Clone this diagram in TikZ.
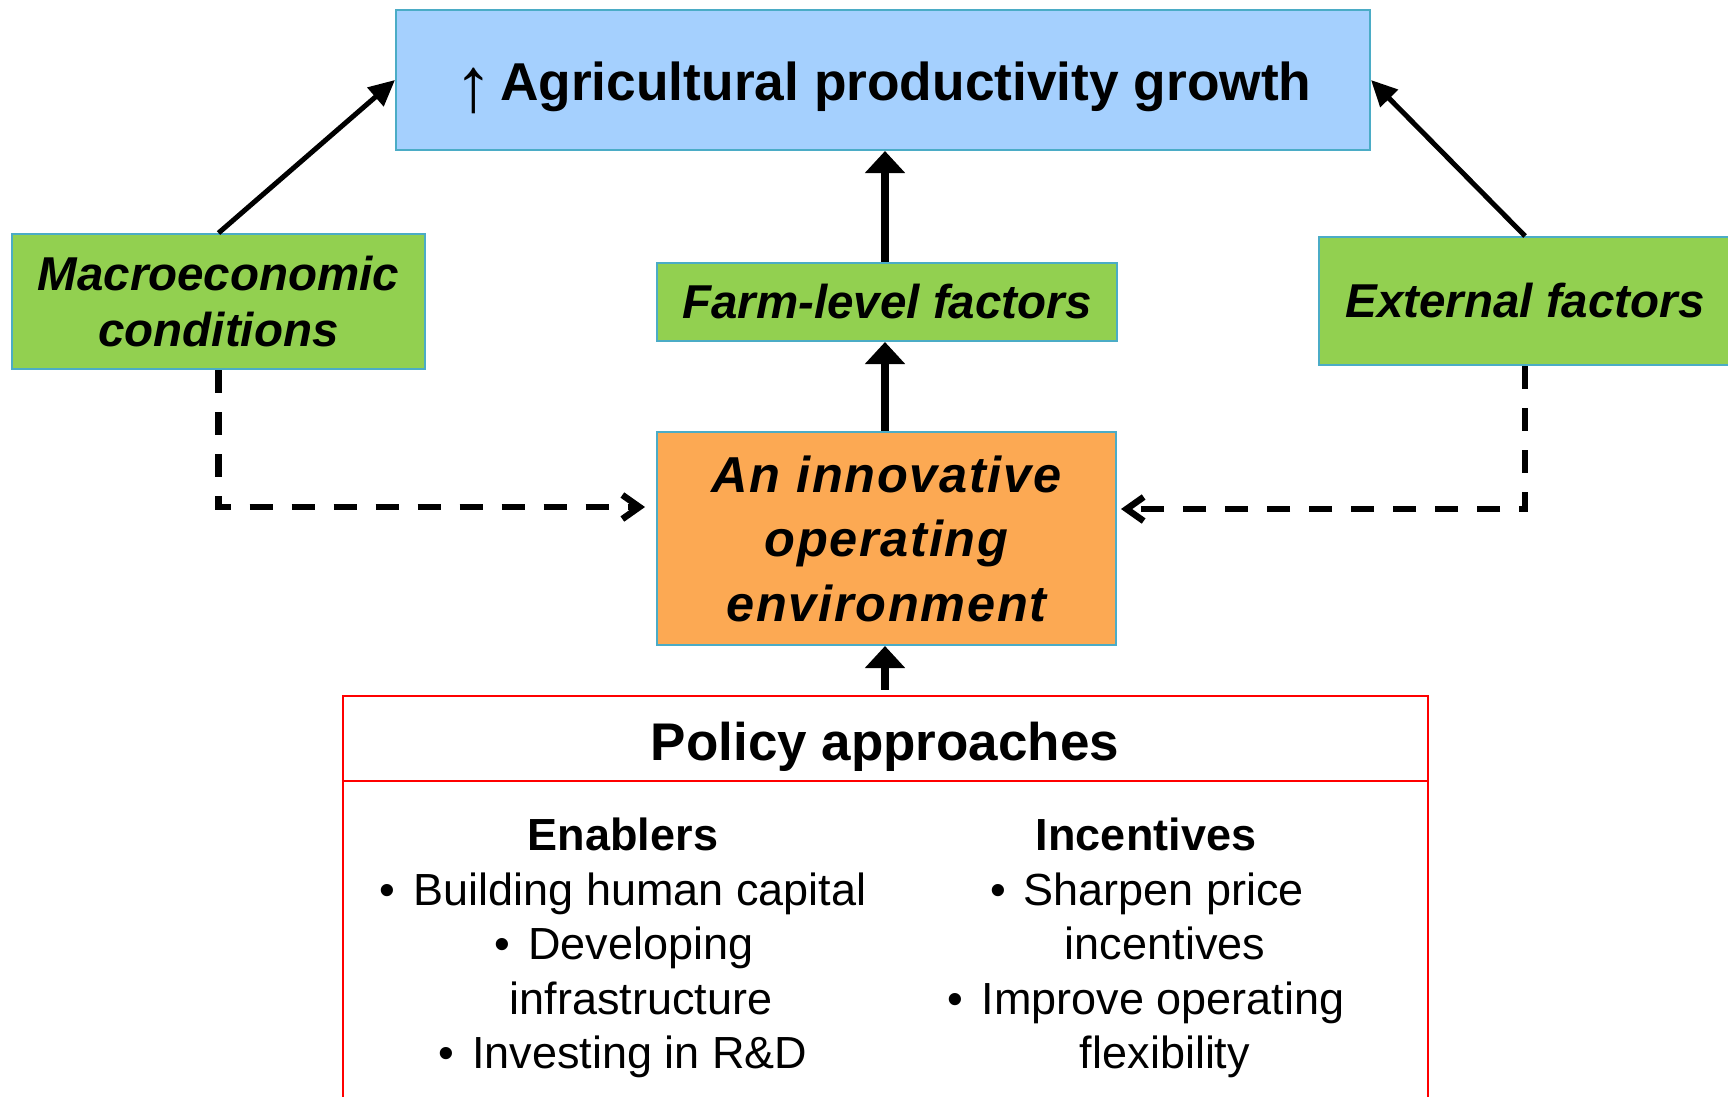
\documentclass[tikz,border=0pt]{standalone}
\usepackage{fontspec}
\setmainfont{Liberation Sans}
\usetikzlibrary{arrows.meta,calc}
\definecolor{topblue}{RGB}{165,208,254}
\definecolor{bordercol}{RGB}{75,172,198}
\definecolor{boxgreen}{RGB}{146,208,80}
\definecolor{boxorange}{RGB}{252,169,83}
\definecolor{policyred}{RGB}{255,0,0}
\newcommand\bul{\textbullet\hspace{0.4em}}
\newcommand\uparr{{\mdseries\raisebox{-11pt}{\scalebox{1.45}{↑}}}}
\tikzset{
  nodebox/.style={rectangle, draw=bordercol, line width=2pt, inner sep=0pt, align=center, text=black},
  greenbox/.style={nodebox, fill=boxgreen, font=\fontsize{47.5}{56}\selectfont\bfseries\itshape},
  solidarrow/.style={line width=8pt, -{Triangle[length=22pt,width=39pt]}},
  diagarrow/.style={line width=5pt, -{Triangle[length=26pt,width=24pt]}},
  dasharrow/.style={line width=6.5pt, dash pattern=on 23pt off 19pt, -{Straight Barb[length=17pt,width=24pt,line width=6.5pt]}},
  colhead/.style={anchor=base, font=\fontsize{45}{54}\selectfont\bfseries},
  colline/.style={anchor=base, font=\fontsize{45}{54}\selectfont},
}
\begin{document}
\begin{tikzpicture}[x=1pt,y=-1pt]
\useasboundingbox (0,0) rectangle (1728,1096);
\clip (0,0) rectangle (1728,1096);

% boxes
\node[nodebox, fill=topblue, minimum width=974pt, minimum height=140pt, text height=40pt, text depth=0pt,
      font=\fontsize{53.3}{60}\selectfont\bfseries] (top) at (883,80) {\uparr\hspace{7pt}Agricultural productivity growth};
\node[greenbox, minimum width=413pt, minimum height=135pt] (macro) at (218.5,301.5) {Macroeconomic\\conditions};
\node[greenbox, minimum width=460pt, minimum height=78pt] (farm) at (887,302) {Farm-level factors};
\node[greenbox, minimum width=412pt, minimum height=128pt] (ext) at (1525,301) {External factors};
\node[nodebox, fill=boxorange, minimum width=459pt, minimum height=213pt,
      font=\fontsize{50.5}{64.5}\selectfont\bfseries\itshape\addfontfeature{LetterSpace=3.3}] (env) at (886.5,538.5) {An innovative\\operating\\environment};

% policy box
\node[rectangle, draw=policyred, line width=2.5pt, minimum width=1085pt, minimum height=420pt, inner sep=0pt]
      (policy) at (885.5,906) {};
\draw[policyred, line width=2.5pt] (policy.west |- 0,781) -- (policy.east |- 0,781);
\node[anchor=base, font=\fontsize{53}{60}\selectfont\bfseries] (ptitle) at (885,760) {Policy approaches};

% columns
\node[colhead] (enab) at (623,850) {Enablers};
\node[colline] (e1) at (623,905) {\bul Building human capital};
\node[colline] (e2) at (624,959) {\bul Developing};
\node[colline] (e3) at (641,1014) {infrastructure};
\node[colline] (e4) at (623,1068) {\bul Investing in R\&D};

\node[colhead] (inc) at (1146,850) {Incentives};
\node[colline] (i1) at (1147,905) {\bul Sharpen price};
\node[colline] (i2) at (1165,959) {incentives};
\node[colline] (i3) at (1146,1014) {\bul Improve operating};
\node[colline] (i4) at (1165,1068) {flexibility};

% connectors
\draw[diagarrow] (macro.north) -- (top.west);
\draw[diagarrow] (ext.north) -- (top.east);
\draw[solidarrow] (farm.north -| 885,0) -- (top.south -| 885,0);
\draw[solidarrow] (env.north -| 885,0) -- (farm.south -| 885,0);
\draw[solidarrow, shorten <=5pt] (policy.north -| 885,0) -- (env.south -| 885,0);

\coordinate (mL) at (645,507);
\coordinate (mR) at (1121,509);
\draw[dasharrow] (macro.south) |- (mL);
\draw[dasharrow] (ext.south) |- (mR);
\end{tikzpicture}
\end{document}
